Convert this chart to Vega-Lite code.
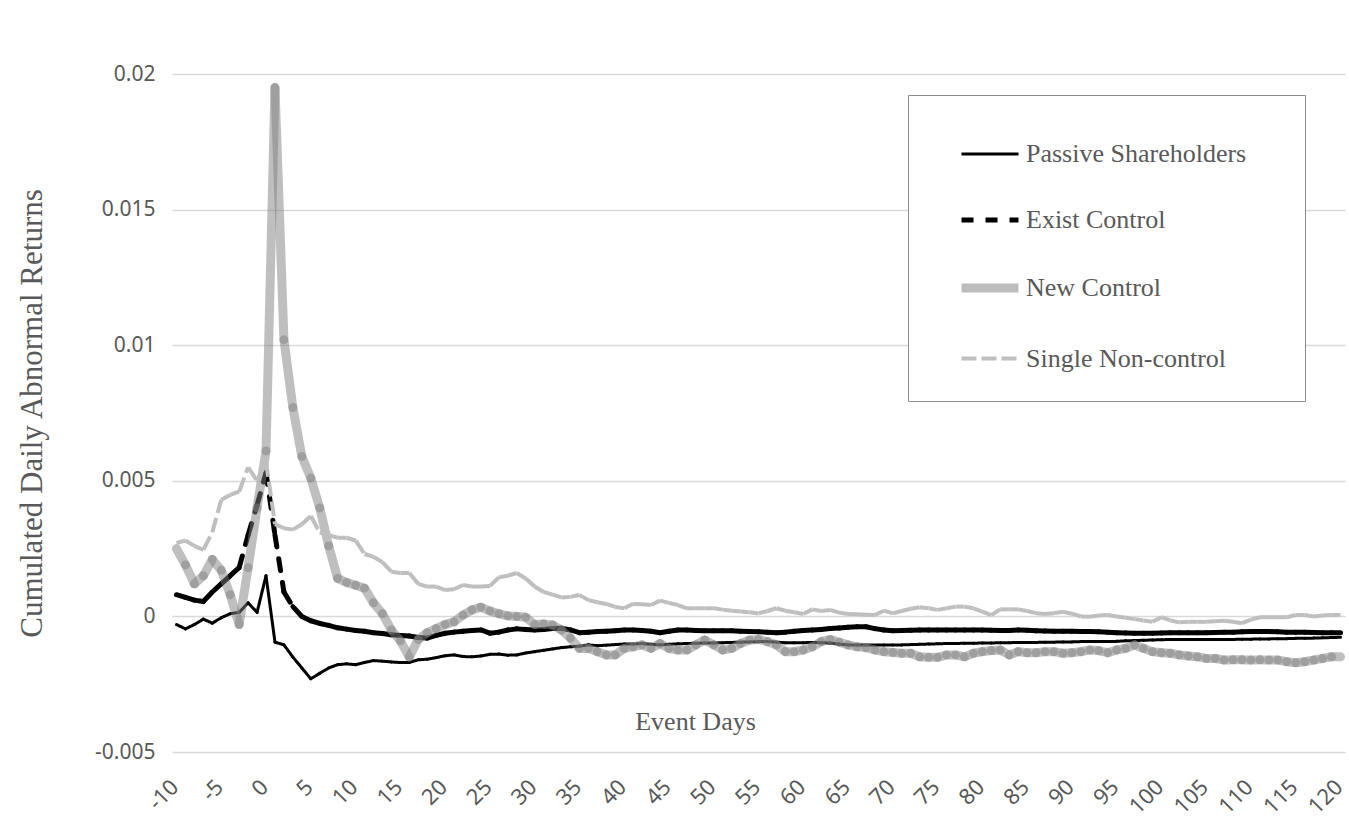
{
  "$schema": "https://vega.github.io/schema/vega-lite/v6.json",
  "width": 1173,
  "height": 678,
  "autosize": "none",
  "padding": {"left": 172, "top": 74, "right": 4, "bottom": 76},
  "background": "white",
  "config": {
    "view": {"stroke": null},
    "axis": {"labelFont": "Noto Sans", "labelColor": "#595959", "labelFontSize": 21, "titleFont": "Liberation Serif", "titleColor": "#595959", "titleFontWeight": "normal", "titleFontSize": 26}
  },
  "data": {"values": [
    {"day":-10,"Passive Shareholders":-0.0003,"Exist Control":0.0008,"New Control":0.0025,"Single Non-control":0.0027},
    {"day":-9,"Passive Shareholders":-0.00046,"Exist Control":0.0007,"New Control":0.0019,"Single Non-control":0.0028},
    {"day":-8,"Passive Shareholders":-0.0003,"Exist Control":0.0006,"New Control":0.0012,"Single Non-control":0.0026},
    {"day":-7,"Passive Shareholders":-0.0001,"Exist Control":0.00055,"New Control":0.0015,"Single Non-control":0.00245},
    {"day":-6,"Passive Shareholders":-0.00025,"Exist Control":0.0009,"New Control":0.0021,"Single Non-control":0.0031},
    {"day":-5,"Passive Shareholders":-0.00005,"Exist Control":0.0012,"New Control":0.0017,"Single Non-control":0.0043},
    {"day":-4,"Passive Shareholders":0.0001,"Exist Control":0.0015,"New Control":0.0008,"Single Non-control":0.00448},
    {"day":-3,"Passive Shareholders":0.00015,"Exist Control":0.0018,"New Control":-0.0003,"Single Non-control":0.0046},
    {"day":-2,"Passive Shareholders":0.0005,"Exist Control":0.003,"New Control":0.0018,"Single Non-control":0.0055},
    {"day":-1,"Passive Shareholders":0.00015,"Exist Control":0.0041,"New Control":0.004,"Single Non-control":0.005},
    {"day":0,"Passive Shareholders":0.0015,"Exist Control":0.0053,"New Control":0.0061,"Single Non-control":0.0057},
    {"day":1,"Passive Shareholders":-0.00095,"Exist Control":0.003,"New Control":0.0195,"Single Non-control":0.0034},
    {"day":2,"Passive Shareholders":-0.00105,"Exist Control":0.0009,"New Control":0.0102,"Single Non-control":0.00325},
    {"day":3,"Passive Shareholders":-0.0015,"Exist Control":0.00036,"New Control":0.0077,"Single Non-control":0.0032},
    {"day":4,"Passive Shareholders":-0.0019,"Exist Control":0,"New Control":0.0059,"Single Non-control":0.0034},
    {"day":5,"Passive Shareholders":-0.0023,"Exist Control":-0.00016,"New Control":0.0051,"Single Non-control":0.0037},
    {"day":6,"Passive Shareholders":-0.0021,"Exist Control":-0.00026,"New Control":0.004,"Single Non-control":0.0031},
    {"day":7,"Passive Shareholders":-0.0019,"Exist Control":-0.00033,"New Control":0.0026,"Single Non-control":0.003},
    {"day":8,"Passive Shareholders":-0.00178,"Exist Control":-0.00042,"New Control":0.0014,"Single Non-control":0.0029},
    {"day":9,"Passive Shareholders":-0.00175,"Exist Control":-0.00047,"New Control":0.00125,"Single Non-control":0.0029},
    {"day":10,"Passive Shareholders":-0.00178,"Exist Control":-0.00052,"New Control":0.00115,"Single Non-control":0.0028},
    {"day":11,"Passive Shareholders":-0.0017,"Exist Control":-0.00055,"New Control":0.00104,"Single Non-control":0.0023},
    {"day":12,"Passive Shareholders":-0.00163,"Exist Control":-0.0006,"New Control":0.0005,"Single Non-control":0.0022},
    {"day":13,"Passive Shareholders":-0.00165,"Exist Control":-0.00063,"New Control":0.0001,"Single Non-control":0.002},
    {"day":14,"Passive Shareholders":-0.00168,"Exist Control":-0.00068,"New Control":-0.0005,"Single Non-control":0.00165},
    {"day":15,"Passive Shareholders":-0.0017,"Exist Control":-0.0007,"New Control":-0.0009,"Single Non-control":0.0016},
    {"day":16,"Passive Shareholders":-0.0017,"Exist Control":-0.00072,"New Control":-0.0015,"Single Non-control":0.0016},
    {"day":17,"Passive Shareholders":-0.0016,"Exist Control":-0.00078,"New Control":-0.00085,"Single Non-control":0.0012},
    {"day":18,"Passive Shareholders":-0.00158,"Exist Control":-0.0008,"New Control":-0.0006,"Single Non-control":0.0011},
    {"day":19,"Passive Shareholders":-0.00152,"Exist Control":-0.0007,"New Control":-0.00045,"Single Non-control":0.0011},
    {"day":20,"Passive Shareholders":-0.00145,"Exist Control":-0.00062,"New Control":-0.0003,"Single Non-control":0.00097},
    {"day":21,"Passive Shareholders":-0.00142,"Exist Control":-0.00058,"New Control":-0.0002,"Single Non-control":0.001},
    {"day":22,"Passive Shareholders":-0.00148,"Exist Control":-0.00055,"New Control":0.00005,"Single Non-control":0.00116},
    {"day":23,"Passive Shareholders":-0.00149,"Exist Control":-0.00052,"New Control":0.00024,"Single Non-control":0.0011},
    {"day":24,"Passive Shareholders":-0.00146,"Exist Control":-0.0005,"New Control":0.00034,"Single Non-control":0.0011},
    {"day":25,"Passive Shareholders":-0.0014,"Exist Control":-0.00062,"New Control":0.0002,"Single Non-control":0.00112},
    {"day":26,"Passive Shareholders":-0.00139,"Exist Control":-0.00058,"New Control":0.0001,"Single Non-control":0.00144},
    {"day":27,"Passive Shareholders":-0.00143,"Exist Control":-0.0005,"New Control":0.00002,"Single Non-control":0.0015},
    {"day":28,"Passive Shareholders":-0.00142,"Exist Control":-0.00046,"New Control":0,"Single Non-control":0.0016},
    {"day":29,"Passive Shareholders":-0.00135,"Exist Control":-0.00048,"New Control":-0.00003,"Single Non-control":0.0014},
    {"day":30,"Passive Shareholders":-0.0013,"Exist Control":-0.0005,"New Control":-0.0003,"Single Non-control":0.0011},
    {"day":31,"Passive Shareholders":-0.00125,"Exist Control":-0.00048,"New Control":-0.00028,"Single Non-control":0.0009},
    {"day":32,"Passive Shareholders":-0.0012,"Exist Control":-0.00045,"New Control":-0.00032,"Single Non-control":0.0008},
    {"day":33,"Passive Shareholders":-0.00115,"Exist Control":-0.00044,"New Control":-0.0005,"Single Non-control":0.0007},
    {"day":34,"Passive Shareholders":-0.00112,"Exist Control":-0.0005,"New Control":-0.0008,"Single Non-control":0.00072},
    {"day":35,"Passive Shareholders":-0.0011,"Exist Control":-0.0006,"New Control":-0.00118,"Single Non-control":0.00079},
    {"day":36,"Passive Shareholders":-0.00105,"Exist Control":-0.00058,"New Control":-0.00118,"Single Non-control":0.0006},
    {"day":37,"Passive Shareholders":-0.00108,"Exist Control":-0.00056,"New Control":-0.0013,"Single Non-control":0.00052},
    {"day":38,"Passive Shareholders":-0.00106,"Exist Control":-0.00055,"New Control":-0.00142,"Single Non-control":0.00046},
    {"day":39,"Passive Shareholders":-0.00104,"Exist Control":-0.00053,"New Control":-0.00142,"Single Non-control":0.00035},
    {"day":40,"Passive Shareholders":-0.00102,"Exist Control":-0.0005,"New Control":-0.00118,"Single Non-control":0.0003},
    {"day":41,"Passive Shareholders":-0.00102,"Exist Control":-0.0005,"New Control":-0.00112,"Single Non-control":0.00046},
    {"day":42,"Passive Shareholders":-0.001,"Exist Control":-0.00052,"New Control":-0.00105,"Single Non-control":0.00045},
    {"day":43,"Passive Shareholders":-0.00103,"Exist Control":-0.00055,"New Control":-0.00118,"Single Non-control":0.00042},
    {"day":44,"Passive Shareholders":-0.00105,"Exist Control":-0.0006,"New Control":-0.001,"Single Non-control":0.00058},
    {"day":45,"Passive Shareholders":-0.00103,"Exist Control":-0.00055,"New Control":-0.00118,"Single Non-control":0.0005},
    {"day":46,"Passive Shareholders":-0.00101,"Exist Control":-0.0005,"New Control":-0.00124,"Single Non-control":0.00042},
    {"day":47,"Passive Shareholders":-0.001,"Exist Control":-0.0005,"New Control":-0.00124,"Single Non-control":0.0003},
    {"day":48,"Passive Shareholders":-0.00099,"Exist Control":-0.00052,"New Control":-0.00105,"Single Non-control":0.0003},
    {"day":49,"Passive Shareholders":-0.00098,"Exist Control":-0.00053,"New Control":-0.00087,"Single Non-control":0.0003},
    {"day":50,"Passive Shareholders":-0.00098,"Exist Control":-0.00053,"New Control":-0.00105,"Single Non-control":0.0003},
    {"day":51,"Passive Shareholders":-0.00097,"Exist Control":-0.00053,"New Control":-0.00124,"Single Non-control":0.00025},
    {"day":52,"Passive Shareholders":-0.00096,"Exist Control":-0.00053,"New Control":-0.00118,"Single Non-control":0.00021},
    {"day":53,"Passive Shareholders":-0.00095,"Exist Control":-0.00055,"New Control":-0.001,"Single Non-control":0.00018},
    {"day":54,"Passive Shareholders":-0.00094,"Exist Control":-0.00056,"New Control":-0.00087,"Single Non-control":0.00015},
    {"day":55,"Passive Shareholders":-0.00093,"Exist Control":-0.00057,"New Control":-0.00085,"Single Non-control":0.00011},
    {"day":56,"Passive Shareholders":-0.00093,"Exist Control":-0.00058,"New Control":-0.00093,"Single Non-control":0.0002},
    {"day":57,"Passive Shareholders":-0.00095,"Exist Control":-0.0006,"New Control":-0.00105,"Single Non-control":0.0003},
    {"day":58,"Passive Shareholders":-0.00097,"Exist Control":-0.00058,"New Control":-0.0013,"Single Non-control":0.00021},
    {"day":59,"Passive Shareholders":-0.00097,"Exist Control":-0.00055,"New Control":-0.0013,"Single Non-control":0.00015},
    {"day":60,"Passive Shareholders":-0.00097,"Exist Control":-0.00052,"New Control":-0.00124,"Single Non-control":0.00009},
    {"day":61,"Passive Shareholders":-0.00096,"Exist Control":-0.0005,"New Control":-0.00112,"Single Non-control":0.00026},
    {"day":62,"Passive Shareholders":-0.00097,"Exist Control":-0.00048,"New Control":-0.00093,"Single Non-control":0.0002},
    {"day":63,"Passive Shareholders":-0.00098,"Exist Control":-0.00045,"New Control":-0.00085,"Single Non-control":0.00024},
    {"day":64,"Passive Shareholders":-0.00102,"Exist Control":-0.00043,"New Control":-0.00095,"Single Non-control":0.00014},
    {"day":65,"Passive Shareholders":-0.00105,"Exist Control":-0.0004,"New Control":-0.00105,"Single Non-control":0.00009},
    {"day":66,"Passive Shareholders":-0.00105,"Exist Control":-0.00038,"New Control":-0.00112,"Single Non-control":0.00008},
    {"day":67,"Passive Shareholders":-0.00105,"Exist Control":-0.00038,"New Control":-0.00115,"Single Non-control":0.00006},
    {"day":68,"Passive Shareholders":-0.00106,"Exist Control":-0.00045,"New Control":-0.00124,"Single Non-control":0.00005},
    {"day":69,"Passive Shareholders":-0.00105,"Exist Control":-0.0005,"New Control":-0.0013,"Single Non-control":0.00021},
    {"day":70,"Passive Shareholders":-0.00105,"Exist Control":-0.00053,"New Control":-0.00133,"Single Non-control":0.00011},
    {"day":71,"Passive Shareholders":-0.00105,"Exist Control":-0.00052,"New Control":-0.00136,"Single Non-control":0.0002},
    {"day":72,"Passive Shareholders":-0.00104,"Exist Control":-0.00051,"New Control":-0.00136,"Single Non-control":0.00028},
    {"day":73,"Passive Shareholders":-0.00103,"Exist Control":-0.0005,"New Control":-0.00149,"Single Non-control":0.00034},
    {"day":74,"Passive Shareholders":-0.00102,"Exist Control":-0.0005,"New Control":-0.00151,"Single Non-control":0.0003},
    {"day":75,"Passive Shareholders":-0.00101,"Exist Control":-0.0005,"New Control":-0.00151,"Single Non-control":0.00024},
    {"day":76,"Passive Shareholders":-0.001,"Exist Control":-0.0005,"New Control":-0.00142,"Single Non-control":0.0003},
    {"day":77,"Passive Shareholders":-0.001,"Exist Control":-0.0005,"New Control":-0.00142,"Single Non-control":0.00036},
    {"day":78,"Passive Shareholders":-0.00099,"Exist Control":-0.0005,"New Control":-0.00149,"Single Non-control":0.00036},
    {"day":79,"Passive Shareholders":-0.00099,"Exist Control":-0.0005,"New Control":-0.00136,"Single Non-control":0.0003},
    {"day":80,"Passive Shareholders":-0.00098,"Exist Control":-0.0005,"New Control":-0.0013,"Single Non-control":0.00018},
    {"day":81,"Passive Shareholders":-0.00098,"Exist Control":-0.00051,"New Control":-0.00126,"Single Non-control":0.00005},
    {"day":82,"Passive Shareholders":-0.00097,"Exist Control":-0.00052,"New Control":-0.00124,"Single Non-control":0.00026},
    {"day":83,"Passive Shareholders":-0.00097,"Exist Control":-0.00052,"New Control":-0.00142,"Single Non-control":0.00026},
    {"day":84,"Passive Shareholders":-0.00096,"Exist Control":-0.0005,"New Control":-0.0013,"Single Non-control":0.00026},
    {"day":85,"Passive Shareholders":-0.00096,"Exist Control":-0.00051,"New Control":-0.00134,"Single Non-control":0.0002},
    {"day":86,"Passive Shareholders":-0.00096,"Exist Control":-0.00053,"New Control":-0.00134,"Single Non-control":0.00012},
    {"day":87,"Passive Shareholders":-0.00095,"Exist Control":-0.00054,"New Control":-0.0013,"Single Non-control":0.00009},
    {"day":88,"Passive Shareholders":-0.00095,"Exist Control":-0.00055,"New Control":-0.0013,"Single Non-control":0.00012},
    {"day":89,"Passive Shareholders":-0.00094,"Exist Control":-0.00055,"New Control":-0.00136,"Single Non-control":0.00017},
    {"day":90,"Passive Shareholders":-0.00094,"Exist Control":-0.00055,"New Control":-0.00134,"Single Non-control":0.0001},
    {"day":91,"Passive Shareholders":-0.00093,"Exist Control":-0.00056,"New Control":-0.0013,"Single Non-control":0},
    {"day":92,"Passive Shareholders":-0.00093,"Exist Control":-0.00056,"New Control":-0.00124,"Single Non-control":-0.00001},
    {"day":93,"Passive Shareholders":-0.00093,"Exist Control":-0.00057,"New Control":-0.00126,"Single Non-control":0.00003},
    {"day":94,"Passive Shareholders":-0.00093,"Exist Control":-0.00058,"New Control":-0.00134,"Single Non-control":0.00005},
    {"day":95,"Passive Shareholders":-0.00092,"Exist Control":-0.0006,"New Control":-0.00124,"Single Non-control":0},
    {"day":96,"Passive Shareholders":-0.0009,"Exist Control":-0.00061,"New Control":-0.00118,"Single Non-control":-0.00005},
    {"day":97,"Passive Shareholders":-0.00089,"Exist Control":-0.00062,"New Control":-0.00105,"Single Non-control":-0.0001},
    {"day":98,"Passive Shareholders":-0.00088,"Exist Control":-0.00062,"New Control":-0.00118,"Single Non-control":-0.00015},
    {"day":99,"Passive Shareholders":-0.00087,"Exist Control":-0.00062,"New Control":-0.0013,"Single Non-control":-0.0002},
    {"day":100,"Passive Shareholders":-0.00086,"Exist Control":-0.00061,"New Control":-0.00134,"Single Non-control":-0.00003},
    {"day":101,"Passive Shareholders":-0.00085,"Exist Control":-0.0006,"New Control":-0.00136,"Single Non-control":-0.00015},
    {"day":102,"Passive Shareholders":-0.00085,"Exist Control":-0.0006,"New Control":-0.00142,"Single Non-control":-0.00022},
    {"day":103,"Passive Shareholders":-0.00085,"Exist Control":-0.0006,"New Control":-0.00146,"Single Non-control":-0.0002},
    {"day":104,"Passive Shareholders":-0.00085,"Exist Control":-0.0006,"New Control":-0.00149,"Single Non-control":-0.0002},
    {"day":105,"Passive Shareholders":-0.00085,"Exist Control":-0.0006,"New Control":-0.00155,"Single Non-control":-0.0002},
    {"day":106,"Passive Shareholders":-0.00085,"Exist Control":-0.00059,"New Control":-0.00155,"Single Non-control":-0.00018},
    {"day":107,"Passive Shareholders":-0.00085,"Exist Control":-0.00058,"New Control":-0.00161,"Single Non-control":-0.00016},
    {"day":108,"Passive Shareholders":-0.00085,"Exist Control":-0.00058,"New Control":-0.0016,"Single Non-control":-0.0002},
    {"day":109,"Passive Shareholders":-0.00084,"Exist Control":-0.00057,"New Control":-0.0016,"Single Non-control":-0.00025},
    {"day":110,"Passive Shareholders":-0.00084,"Exist Control":-0.00056,"New Control":-0.00161,"Single Non-control":-0.00012},
    {"day":111,"Passive Shareholders":-0.00083,"Exist Control":-0.00056,"New Control":-0.0016,"Single Non-control":-0.00003},
    {"day":112,"Passive Shareholders":-0.00083,"Exist Control":-0.00056,"New Control":-0.00161,"Single Non-control":-0.00003},
    {"day":113,"Passive Shareholders":-0.00082,"Exist Control":-0.00057,"New Control":-0.00161,"Single Non-control":-0.00003},
    {"day":114,"Passive Shareholders":-0.00082,"Exist Control":-0.00058,"New Control":-0.00167,"Single Non-control":-0.00003},
    {"day":115,"Passive Shareholders":-0.00081,"Exist Control":-0.00058,"New Control":-0.00171,"Single Non-control":0.00005},
    {"day":116,"Passive Shareholders":-0.00081,"Exist Control":-0.00058,"New Control":-0.00167,"Single Non-control":0.00005},
    {"day":117,"Passive Shareholders":-0.0008,"Exist Control":-0.00059,"New Control":-0.00161,"Single Non-control":0},
    {"day":118,"Passive Shareholders":-0.00079,"Exist Control":-0.0006,"New Control":-0.00155,"Single Non-control":0.00003},
    {"day":119,"Passive Shareholders":-0.00078,"Exist Control":-0.0006,"New Control":-0.00149,"Single Non-control":0.00005},
    {"day":120,"Passive Shareholders":-0.00077,"Exist Control":-0.0006,"New Control":-0.00149,"Single Non-control":0.00005}
  ]},
  "transform": [
    {"fold": ["Passive Shareholders", "Exist Control", "New Control", "Single Non-control"], "as": ["series", "value"]},
    {"window": [{"op": "lead", "field": "value", "as": "value2"}, {"op": "lead", "field": "day", "as": "day2"}], "groupby": ["series"], "sort": [{"field": "day", "order": "ascending"}]},
    {"filter": "datum.day2 != null"}
  ],
  "encoding": {
    "x": {"field": "day", "type": "quantitative", "scale": {"domain": [-10.5, 120.5], "nice": false, "zero": false},
      "axis": {"values": [-10,-5,0,5,10,15,20,25,30,35,40,45,50,55,60,65,70,75,80,85,90,95,100,105,110,115,120], "labelExpr": "'' + datum.value", "labelAngle": -45, "labelAlign": "right", "labelBaseline": "top", "labelPadding": 24, "labelOffset": -9, "labelFontSize": 22, "grid": false, "ticks": false, "domain": false, "labelFlush": false, "labelOverlap": false,
        "title": "Event Days", "titleX": 523, "titleY": -23, "titleBaseline": "alphabetic", "titleAnchor": null, "titleAlign": "center"}},
    "x2": {"field": "day2"},
    "y": {"field": "value", "type": "quantitative", "scale": {"domain": [-0.005, 0.02], "nice": false, "zero": false},
      "axis": {"values": [-0.005, 0, 0.005, 0.01, 0.015, 0.02], "labelExpr": "'' + datum.value", "labelPadding": 17, "ticks": false, "domain": false, "grid": true, "gridColor": "#d9d9d9", "gridWidth": 1.5,
        "title": "Cumulated Daily Abnormal Returns", "titleFontSize": 31, "titleX": -140, "titleBaseline": "middle"}},
    "y2": {"field": "value2"},
    "color": {"field": "series", "type": "nominal",
      "scale": {"domain": ["Passive Shareholders", "Exist Control", "New Control", "Single Non-control"], "range": ["#000000", "#000000", "#7f7f7f", "#bfbfbf"]},
      "legend": {"orient": "none", "legendX": 736, "legendY": 21, "direction": "vertical", "title": "\u00a0", "titleOrient": "right", "titlePadding": 30, "titleFontSize": 10, "symbolType": "stroke", "symbolSize": 3249, "rowPadding": 22, "padding": 29, "symbolOffset": 20, "labelFont": "Liberation Serif", "labelFontSize": 26, "labelColor": "#595959", "labelOffset": 3, "labelLimit": 0, "fillColor": "white", "strokeColor": "#8c8c8c"}},
    "strokeWidth": {"field": "series", "type": "nominal",
      "scale": {"type": "ordinal", "domain": ["Passive Shareholders", "Exist Control", "New Control", "Single Non-control"], "range": [3, 5, 9, 4]}},
    "strokeDash": {"field": "series", "type": "nominal",
      "scale": {"domain": ["Passive Shareholders", "Exist Control", "New Control", "Single Non-control"], "range": [[1, 0], [12, 12], [1, 0], [15, 5]]}},
    "opacity": {"field": "series", "type": "nominal",
      "scale": {"type": "ordinal", "domain": ["Passive Shareholders", "Exist Control", "New Control", "Single Non-control"], "range": [1, 1, 0.5, 1]}}
  },
  "layer": [
    {"transform": [{"filter": "datum.series == 'Passive Shareholders'"}], "mark": {"type": "rule", "strokeCap": "round"}},
    {"transform": [{"filter": "datum.series == 'Exist Control'"}], "mark": {"type": "rule", "strokeCap": "round"}},
    {"transform": [{"filter": "datum.series == 'New Control'"}], "mark": {"type": "rule", "strokeCap": "round"}},
    {"transform": [{"filter": "datum.series == 'Single Non-control'"}], "mark": {"type": "rule", "strokeCap": "butt"}}
  ]
}
